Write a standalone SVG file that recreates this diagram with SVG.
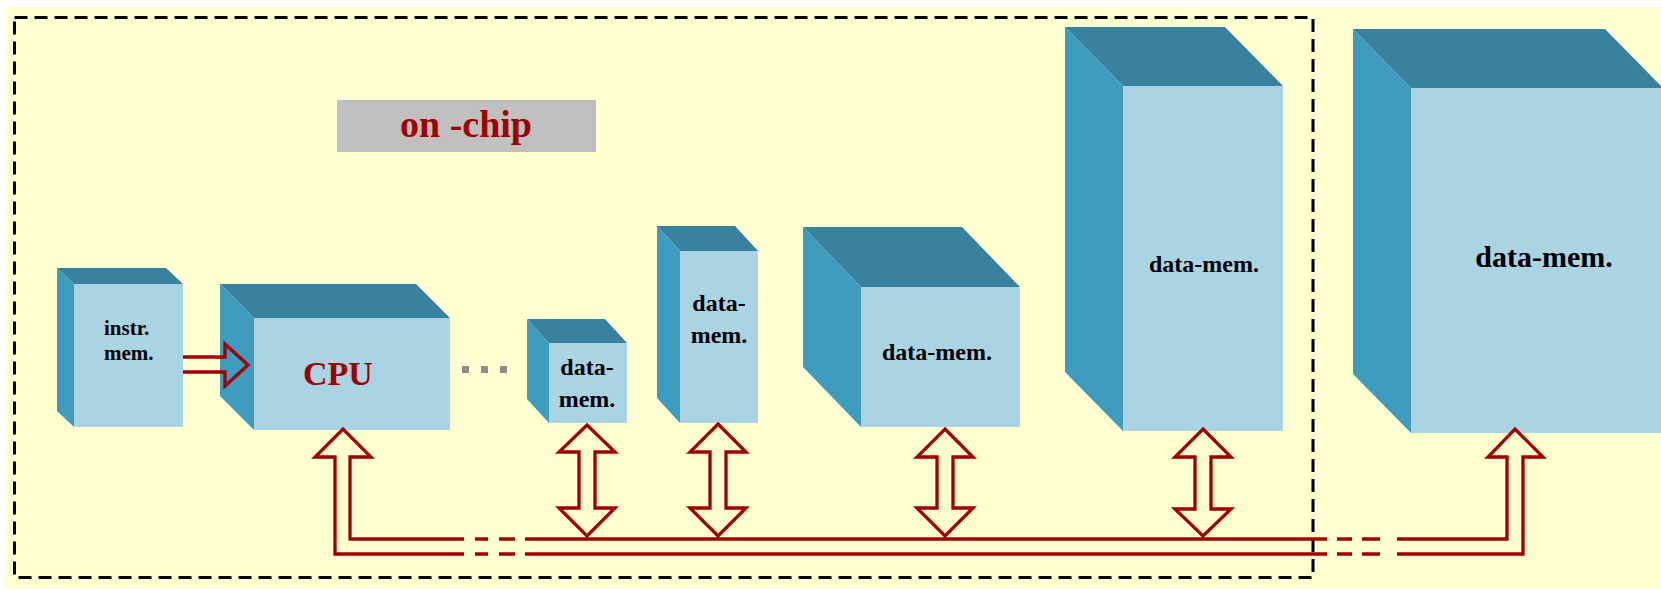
<svg xmlns="http://www.w3.org/2000/svg" width="1661" height="589" viewBox="0 0 1661 589">
<style>
.top{fill:#38829F}
.side{fill:#3F9BBF}
.front{fill:#AAD3E3}
.lbl{font-family:"Liberation Serif",serif;font-weight:bold;fill:#000;font-size:24px;text-anchor:middle}
.red{font-family:"Liberation Serif",serif;font-weight:bold;fill:#A00000;text-anchor:middle}
.bus{fill:none;stroke:#A00000;stroke-width:3.3}
.dot{fill:#8C8C8C}
</style>
<rect x="0" y="0" width="1661" height="589" fill="#FFFFFF"/>
<rect x="6" y="7" width="1655" height="582" fill="#FFFFD1"/>
<rect id="onchip-boundary" x="14.5" y="17.5" width="1298.5" height="560" fill="none" stroke="#000" stroke-width="3" stroke-dasharray="13 7"/>
<g id="onchip-label">
<rect x="337" y="100" width="259" height="52" fill="#C0C0C0"/>
<text class="red" x="466" y="137" font-size="38">on -chip</text>
</g>
<g id="instr-mem">
<polygon class="top" points="74,284 57,268 166,268 183,284"/>
<polygon class="side" points="74,284 57,268 57,411 74,427"/>
<rect class="front" x="74" y="284" width="109" height="143"/>
<text class="lbl" x="104" y="335" style="text-anchor:start;font-size:21px">instr.</text>
<text class="lbl" x="104" y="360" style="text-anchor:start;font-size:21px">mem.</text>
</g>
<g id="cpu">
<polygon class="top" points="254,318 220,284 416,284 450,318"/>
<polygon class="side" points="254,318 220,284 220,396 254,430"/>
<rect class="front" x="254" y="318" width="196" height="112"/>
<text class="red" x="338" y="385" font-size="34">CPU</text>
</g>
<g id="ellipsis">
<rect class="dot" x="462" y="366" width="7" height="7"/>
<rect class="dot" x="481" y="366" width="7" height="7"/>
<rect class="dot" x="500" y="366" width="7" height="7"/>
</g>
<g id="data-mem-1">
<polygon class="top" points="549,343 527,319 605,319 627,343"/>
<polygon class="side" points="549,343 527,319 527,399 549,423"/>
<rect class="front" x="549" y="343" width="78" height="80"/>
<text class="lbl" x="587" y="375">data-</text>
<text class="lbl" x="587" y="407">mem.</text>
</g>
<g id="data-mem-2">
<polygon class="top" points="680,251 657,226 735,226 758,251"/>
<polygon class="side" points="680,251 657,226 657,398 680,423"/>
<rect class="front" x="680" y="251" width="78" height="172"/>
<text class="lbl" x="719" y="311">data-</text>
<text class="lbl" x="719" y="343">mem.</text>
</g>
<g id="data-mem-3">
<polygon class="top" points="861,287 803,227 962,227 1020,287"/>
<polygon class="side" points="861,287 803,227 803,367 861,427"/>
<rect class="front" x="861" y="287" width="159" height="140"/>
<text class="lbl" x="937" y="360">data-mem.</text>
</g>
<g id="data-mem-4">
<polygon class="top" points="1123,86 1065,27 1225,27 1283,86"/>
<polygon class="side" points="1123,86 1065,27 1065,372 1123,431"/>
<rect class="front" x="1123" y="86" width="160" height="345"/>
<text class="lbl" x="1204" y="272">data-mem.</text>
</g>
<g id="data-mem-offchip">
<polygon class="top" points="1411,88 1353,29 1605,29 1663,88"/>
<polygon class="side" points="1411,88 1353,29 1353,374 1411,433"/>
<rect class="front" x="1411" y="88" width="260" height="345"/>
<text class="lbl" x="1544" y="267" style="font-size:30px">data-mem.</text>
</g>
<g id="connectors">
<path class="bus" d="M183,357 H225 V344 L248,365 L225,386 V372 H183"/>
<path class="bus" d="M464,554 H335 V457 H315 L343,429 L371,457 H350 V539 H464"/>
<path class="bus" d="M475,539 H488 M499,539 H515 M475,554 H488 M499,554 H515"/>
<path class="bus" d="M525,539 H1327 M525,554 H1327"/>
<path class="bus" d="M1337,539 H1352 M1362,539 H1380 M1337,554 H1352 M1362,554 H1380"/>
<path class="bus" d="M1397,539 H1507 V457 H1488 L1515,429 L1543,457 H1523 V554 H1397"/>
<polygon class="bus" points="587,425 615,452 595,452 595,508 615,508 587,536 559,508 579,508 579,452 559,452"/>
<polygon class="bus" points="718,424 746,452 726,452 726,508 746,508 718,536 690,508 710,508 710,452 690,452"/>
<polygon class="bus" points="945,429 973,457 953,457 953,508 973,508 945,536 917,508 937,508 937,457 917,457"/>
<polygon class="bus" points="1203,429 1231,457 1211,457 1211,509 1231,509 1203,536 1175,509 1195,509 1195,457 1175,457"/>
</g>
</svg>
